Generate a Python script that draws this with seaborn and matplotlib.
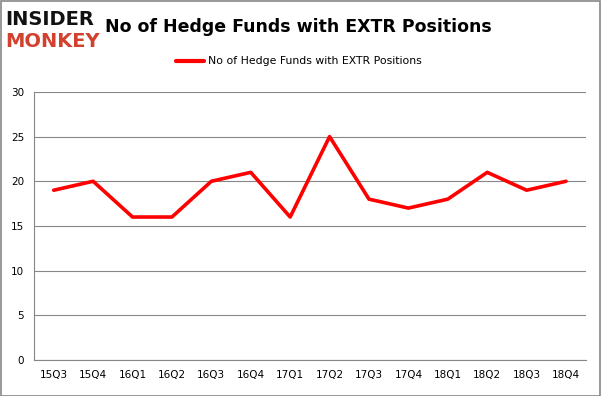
import numpy as np
import pandas as pd
import matplotlib
matplotlib.use("Agg")
import matplotlib.pyplot as plt
import seaborn as sb

quarters = ["15Q3", "15Q4", "16Q1", "16Q2", "16Q3", "16Q4", "17Q1",
            "17Q2", "17Q3", "17Q4", "18Q1", "18Q2", "18Q3", "18Q4"]
funds = [19, 20, 16, 16, 20, 21, 16, 25, 18, 17, 18, 21, 19, 20]
series_name = "No of Hedge Funds with EXTR Positions"

df = pd.DataFrame({"pos": np.arange(len(quarters)), "funds": funds})

sb.set_style("white")
plt.rcParams['font.family'] = ['DejaVu Sans']
plt.rcParams['text.color'] = 'black'
plt.rcParams['xtick.color'] = 'black'
plt.rcParams['ytick.color'] = 'black'

fig = plt.figure(figsize=(6.01, 3.96), dpi=100)
ax = fig.add_axes([0.0566, 0.0909, 0.918, 0.677])

sb.lineplot(data=df, x="pos", y="funds", color="#ff0000", linewidth=2.6,
            ax=ax, legend=False)

ax.set_xlim(-0.5, len(quarters) - 0.5)
ax.set_ylim(0, 30)
ax.set_yticks(range(0, 31, 5))
ax.set_xticks(np.arange(-0.5, len(quarters), 1.0))
ax.set_xticklabels([])
ax.set_xticks(np.arange(len(quarters)), minor=True)
ax.set_xticklabels(quarters, minor=True)
ax.tick_params(axis="x", which="major", length=4, color="#868686", direction="out")
ax.tick_params(axis="x", which="minor", length=0, labelsize=7.5, pad=7)
ax.tick_params(axis="y", length=4, color="#868686", labelsize=7.5, pad=3, direction="out")
ax.yaxis.grid(True, color="#868686", linewidth=0.8)
ax.set_axisbelow(True)
for side in ["top", "right"]:
    ax.spines[side].set_visible(False)
for side in ["left", "bottom"]:
    ax.spines[side].set_color("#868686")
ax.set_xlabel("")
ax.set_ylabel("")

# title and legend
fig.text(0.497, 0.932, series_name, ha="center", va="center",
         fontsize=12.5, fontweight="bold", color="black")
fig.legend(handles=[plt.Line2D([], [], color="#ff0000", linewidth=3)],
           labels=[series_name], loc="center", bbox_to_anchor=(0.497, 0.845),
           frameon=False, fontsize=7.8, handlelength=2.6, handletextpad=0.3)

# logo
fig.text(0.008, 0.952, "INSIDER", fontsize=14, fontweight="bold", color="#111111",
         ha="left", va="center")
fig.text(0.008, 0.895, "MONKEY", fontsize=14, fontweight="bold", color="#d2402e",
         ha="left", va="center")

# outer border
fig.patches.append(plt.Rectangle((0.001, 0.001), 0.997, 0.997, transform=fig.transFigure,
                                 fill=False, edgecolor="#868686", linewidth=1.2))

fig.savefig("out.png", dpi=100)
